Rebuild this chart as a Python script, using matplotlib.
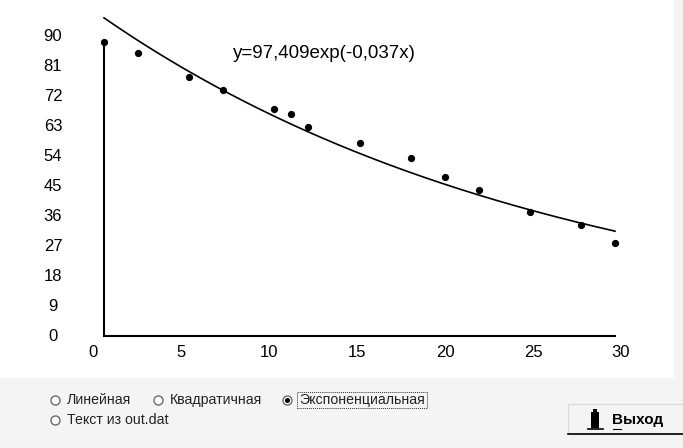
import numpy as np
import matplotlib.pyplot as plt
from matplotlib.patches import Rectangle
from matplotlib.lines import Line2D

W, H = 683, 448

# measured points (x, y)
x_vals = [0, 2, 5, 7, 10, 11, 12, 15, 18, 20, 22, 25, 28, 30]
y_vals = [90.0, 86.7, 79.2, 75.2, 69.5, 68.0, 64.0, 59.2, 54.5, 48.8, 44.7, 38.0, 33.9, 28.4]

# fitted curve y = a * exp(b * x), as printed on the chart
fit_a = 97.409
fit_b = -0.037
fit_label = "y=97,409exp(-0,037x)"

x_ticks = [0, 5, 10, 15, 20, 25, 30]
y_ticks = [0, 9, 18, 27, 36, 45, 54, 63, 72, 81, 90]

options = ["Линейная", "Квадратичная", "Экспоненциальная", "Текст из out.dat"]
selected = 2
exit_label = "Выход"

plt.rcParams["font.family"] = ["Liberation Sans", "DejaVu Sans"]
PANEL = "#f4f4f4"


def fx(px):
    return px / W


def fy(py):
    return 1 - py / H


def box(l, t, r, b):
    return [l / W, 1 - b / H, (r - l) / W, (b - t) / H]


fig = plt.figure(figsize=(W / 100, H / 100), dpi=100, facecolor=PANEL)
fig.add_artist(Rectangle((0, fy(378)), fx(674), 378 / H, transform=fig.transFigure,
                         facecolor="white", edgecolor="none", zorder=-5))

# tick labels live on their own axes (the original draws them on a slightly different scale)
lab = fig.add_axes(box(93, 335 - 333.3, 621, 335))
lab.set_xlim(0, 30)
lab.set_ylim(0, 100)
lab.patch.set_visible(False)
for sp in lab.spines.values():
    sp.set_visible(False)
lab.set_xticks(x_ticks)
lab.set_yticks(y_ticks)
lab.tick_params(length=0, labelsize=12)
lab.tick_params(axis="x", pad=7)
lab.tick_params(axis="y", pad=28.8)
for t in lab.get_yticklabels():
    t.set_horizontalalignment("center")

# data axes
ax = fig.add_axes(box(104, 336 - 326.6, 615, 336))
ax.set_xlim(0, 30)
ax.set_ylim(0, 100)
ax.patch.set_visible(False)
ax.spines["top"].set_visible(False)
ax.spines["right"].set_visible(False)
ax.spines["left"].set_bounds(0, max(y_vals))
ax.spines["bottom"].set_bounds(0, 30)
for s in ["left", "bottom"]:
    ax.spines[s].set_linewidth(1.5)
ax.set_xticks([])
ax.set_yticks([])

xs = np.linspace(0, 30, 200)
ax.plot(xs, fit_a * np.exp(fit_b * xs), color="black", lw=1.2, clip_on=False)
ax.plot(x_vals, y_vals, "o", color="black", ms=4.2, clip_on=False)

fig.text(fx(233), fy(53), fit_label, fontsize=13.5, va="center", ha="left")

# radio buttons
radio_pos = [(55, 400), (158, 400), (287, 400), (55, 420)]
fig.canvas.draw()
renderer = fig.canvas.get_renderer()
for i, (name, (cx, cy)) in enumerate(zip(options, radio_pos)):
    fig.add_artist(Line2D([fx(cx)], [fy(cy)], marker="o", ms=6.5, mfc="white",
                          mec="#6a6a6a", mew=1, transform=fig.transFigure))
    if i == selected:
        fig.add_artist(Line2D([fx(cx)], [fy(cy)], marker="o", ms=2.6, mfc="black",
                              mec="black", transform=fig.transFigure))
    t = fig.text(fx(cx + 12), fy(cy), name, fontsize=10.2, va="center", color="#222222")
    if i == selected:
        bb = t.get_window_extent(renderer).transformed(fig.transFigure.inverted())
        fig.add_artist(Rectangle((bb.x0 - 2 / W, bb.y0 - 1 / H), bb.width + 4 / W, bb.height + 2 / H,
                                 transform=fig.transFigure, fill=False, edgecolor="#333333",
                                 linestyle=(0, (1, 1)), lw=0.7))

# exit button
fig.add_artist(Rectangle((fx(568), fy(434)), (683 - 568) / W, (434 - 404) / H,
                         transform=fig.transFigure, facecolor=PANEL, edgecolor="#d8d8d8", lw=0.8))
fig.add_artist(Line2D([fx(568), fx(683)], [fy(434), fy(434)], color="black", lw=1.2,
                      transform=fig.transFigure))
fig.add_artist(Rectangle((fx(591), fy(428)), 8 / W, 16 / H, transform=fig.transFigure,
                         facecolor="black", edgecolor="none"))
fig.add_artist(Rectangle((fx(593), fy(412)), 4 / W, 3 / H, transform=fig.transFigure,
                         facecolor="black", edgecolor="none"))
fig.add_artist(Line2D([fx(588), fx(603)], [fy(429), fy(429)], color="black", lw=1.2,
                      transform=fig.transFigure))
fig.text(fx(612), fy(420), exit_label, fontsize=11, fontweight="bold", va="center", ha="left")
fig.add_artist(Line2D([fx(613), fx(621)], [fy(428.5), fy(428.5)], color="black", lw=0.8,
                      transform=fig.transFigure))

fig.savefig("out.png", dpi=100, facecolor=PANEL)
